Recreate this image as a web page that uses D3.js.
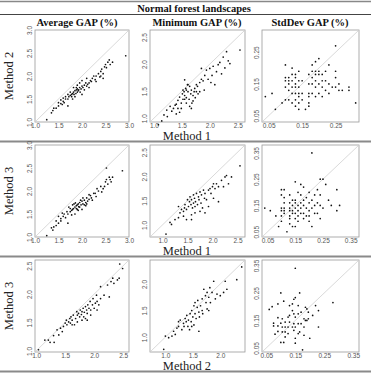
<!DOCTYPE html>
<html>
<head>
<meta charset="utf-8">
<style>
    body { margin: 0; background: #fff; }
    svg { display: block; }
    .hdr { font-family: 'Liberation Serif', 'Times New Roman', serif; font-weight: bold; font-size: 10.5px; fill: #111; }
    .lab { font-family: 'Liberation Serif', 'Times New Roman', serif; font-size: 12.5px; fill: #222; }
    .axis text { font-family: 'Liberation Sans', Arial, sans-serif; font-size: 6.5px; fill: #555; }
    .axis .domain, .axis line { display: none; }
</style>
</head>
<body>
<svg width="371" height="375"></svg>
<script src="https://d3js.org/d3.v7.min.js"></script>
<script>
// column / row headings
const title = "Normal forest landscapes";
const colTitles = ["Average GAP (%)", "Minimum GAP (%)", "StdDev GAP (%)"];
const rowLabels = ["Method 2", "Method 3", "Method 3"];
const xLabels = ["Method 1", "Method 1", "Method 2"];

// axis ranges and ticks per column and row
const gapTicksA = [1, 1.5, 2, 2.5, 3];
const gapTicksB = [1, 1.5, 2, 2.5];
const gapTicksC = [1, 1.5, 2];
const sdTicks3 = [0.05, 0.15, 0.25];
const sdTicks4 = [0.05, 0.15, 0.25, 0.35];
const domains = [
    [[1, 3], [0.93, 2.63], [0.03, 0.32]],
    [[1, 3], [0.75, 2.65], [0.03, 0.38]],
    [[0.98, 2.6], [0.72, 2.45], [0.035, 0.37]]
];
const ticks = [
    [gapTicksA, gapTicksB, sdTicks3],
    [gapTicksA, gapTicksB, sdTicks4],
    [gapTicksB, gapTicksC, sdTicks4]
];

// points: [x, y]
const avg12 = [[1.25,1.05],[1.35,1.2],[1.4,1.3],[1.38,1.25],[1.45,1.3],[1.5,1.35],[1.55,1.4],[1.6,1.45],[1.58,1.38],[1.65,1.5],
    [1.62,1.42],[1.7,1.5],[1.72,1.55],[1.75,1.58],[1.7,1.35],[1.78,1.6],[1.8,1.62],[1.82,1.65],[1.85,1.68],[1.83,1.6],
    [1.88,1.7],[1.9,1.72],[1.87,1.62],[1.92,1.68],[1.95,1.75],[1.9,1.65],[1.93,1.7],[1.96,1.65],[1.98,1.72],[2.0,1.78],
    [2.02,1.75],[1.85,1.55],[1.8,1.5],[2.05,1.8],[2.08,1.85],[2.1,1.78],[2.12,1.82],[2.15,1.85],[2.18,1.9],[2.2,1.88],
    [2.0,1.6],[2.05,1.7],[2.22,1.95],[2.25,2.0],[2.28,1.92],[2.3,2.0],[2.35,2.05],[2.38,1.98],[2.4,2.1],[2.42,2.15],
    [2.45,2.05],[2.48,2.2],[2.5,2.25],[2.52,2.18],[2.55,2.3],[2.58,2.35],[2.6,2.25],[2.65,2.3],[2.93,2.44],[1.65,1.55],
    [1.75,1.65],[1.78,1.55],[1.9,1.8],[1.95,1.85],[2.0,1.9],[2.1,1.95],[1.7,1.6],[1.6,1.52],[1.55,1.48],[1.5,1.42],
    [2.3,1.88],[2.4,2.0],[2.45,1.95],[1.82,1.75],[1.88,1.75],[2.15,1.75]];
const min12 = [[1.08,0.88],[1.18,1.06],[1.24,1.03],[1.32,1.13],[1.35,1.18],[1.38,1.24],[1.40,1.26],[1.43,1.33],[1.43,1.18],[1.46,1.39],
    [1.49,1.28],[1.51,1.45],[1.52,1.35],[1.54,1.49],[1.55,1.42],[1.57,1.55],[1.58,1.52],[1.58,1.38],[1.60,1.62],[1.61,1.49],
    [1.63,1.35],[1.64,1.59],[1.66,1.45],[1.67,1.52],[1.68,1.28],[1.70,1.42],[1.72,1.49],[1.73,1.55],[1.74,1.38],[1.76,1.49],
    [1.78,1.59],[1.79,1.45],[1.55,1.71],[1.82,1.66],[1.85,1.72],[1.88,1.69],[1.90,1.52],[1.91,1.79],[1.94,1.89],[1.97,1.72],
    [2.0,1.92],[2.02,1.66],[2.04,1.79],[2.06,1.96],[2.09,1.62],[2.12,1.86],[2.15,1.99],[2.18,2.03],[2.21,1.82],[2.24,2.13],
    [2.27,1.93],[2.30,2.23],[2.33,2.06],[2.36,2.01],[2.54,2.26],[1.23,1.15],[1.29,1.22],[1.40,1.08],[1.46,1.11],[1.49,1.18],
    [1.52,1.52],[1.64,1.22],[1.67,1.18],[1.70,1.32],[1.61,1.62],[1.76,1.62],[1.82,1.49],[1.55,1.35],[1.58,1.28],[1.14,0.95],
    [1.85,1.92]];
const sd12 = [[0.04,0.11],[0.06,0.12],[0.07,0.07],[0.09,0.09],[0.10,0.21],[0.10,0.17],[0.10,0.16],[0.10,0.14],[0.10,0.10],
    [0.11,0.17],[0.11,0.16],[0.11,0.15],[0.11,0.13],[0.11,0.10],[0.12,0.18],[0.12,0.16],[0.12,0.14],[0.12,0.12],[0.12,0.09],
    [0.12,0.20],[0.13,0.18],[0.13,0.17],[0.13,0.15],[0.13,0.14],[0.13,0.12],[0.13,0.10],[0.13,0.08],[0.14,0.19],[0.14,0.16],
    [0.14,0.14],[0.14,0.12],[0.14,0.11],[0.14,0.09],[0.14,0.07],[0.15,0.16],[0.15,0.12],[0.15,0.10],[0.16,0.07],[0.17,0.18],
    [0.17,0.15],[0.17,0.12],[0.17,0.11],[0.17,0.09],[0.17,0.08],[0.18,0.19],[0.18,0.17],[0.18,0.15],[0.18,0.12],[0.18,0.21],
    [0.19,0.18],[0.19,0.14],[0.19,0.11],[0.19,0.22],[0.19,0.19],[0.19,0.16],[0.20,0.23],[0.20,0.19],[0.20,0.18],[0.20,0.15],
    [0.20,0.12],[0.21,0.18],[0.21,0.16],[0.21,0.14],[0.21,0.11],[0.22,0.19],[0.22,0.16],[0.22,0.13],[0.23,0.21],[0.23,0.15],
    [0.23,0.12],[0.24,0.14],[0.25,0.19],[0.25,0.17],[0.25,0.14],[0.25,0.27],[0.26,0.15],[0.26,0.13],[0.27,0.13],[0.29,0.14],
    [0.29,0.13],[0.31,0.09]];
const avg13 = [[1.25,1.03],[1.35,1.2],[1.38,1.15],[1.45,1.25],[1.5,1.3],[1.55,1.4],[1.55,1.35],[1.6,1.45],[1.65,1.42],[1.7,1.5],
    [1.7,1.3],[1.75,1.55],[1.78,1.58],[1.8,1.6],[1.82,1.62],[1.85,1.65],[1.85,1.5],[1.88,1.68],[1.9,1.7],[1.9,1.6],
    [1.92,1.72],[1.95,1.75],[1.95,1.65],[1.98,1.7],[2.0,1.78],[2.0,1.6],[2.05,1.8],[2.05,1.7],[2.08,1.75],[2.1,1.85],
    [2.12,1.78],[2.15,1.82],[2.18,1.9],[2.2,1.85],[2.22,1.8],[2.25,1.95],[2.3,1.88],[2.35,2.0],[2.4,2.1],[2.45,2.05],
    [2.5,2.2],[2.52,2.25],[2.55,2.15],[2.58,2.3],[2.6,2.25],[2.65,2.3],[2.52,2.5],[2.86,2.44],[1.8,1.7],[1.83,1.72],
    [1.86,1.74],[1.88,1.62],[1.93,1.66],[1.97,1.8],[2.02,1.72],[1.75,1.62],[1.72,1.65],[1.68,1.55],[1.62,1.5],[1.58,1.52],
    [1.5,1.45],[1.45,1.35],[1.4,1.22],[2.02,1.85],[2.08,1.68],[2.15,1.92],[2.28,1.95],[2.32,2.05],[2.42,1.98],[2.48,2.1],
    [2.62,2.2],[1.92,1.58],[1.78,1.48],[2.1,1.72]];
const min13 = [[1.07,0.81],[1.15,1.05],[1.18,1.01],[1.25,1.11],[1.32,1.15],[1.32,1.38],[1.35,1.25],[1.38,1.32],[1.42,1.28],[1.44,1.35],
    [1.45,1.42],[1.48,1.32],[1.50,1.52],[1.52,1.38],[1.54,1.48],[1.55,1.58],[1.57,1.42],[1.58,1.52],[1.60,1.35],[1.62,1.62],
    [1.62,1.45],[1.64,1.55],[1.65,1.38],[1.66,1.48],[1.68,1.65],[1.70,1.42],[1.72,1.58],[1.73,1.52],[1.75,1.68],[1.77,1.45],
    [1.78,1.62],[1.80,1.35],[1.82,1.72],[1.84,1.55],[1.85,1.65],[1.88,1.52],[1.92,1.72],[1.95,1.75],[1.97,1.65],[2.0,1.79],
    [2.02,1.85],[2.05,1.75],[2.08,1.85],[2.12,1.79],[2.18,1.92],[2.22,1.79],[2.25,1.99],[2.28,2.02],[2.32,1.85],[2.38,1.99],
    [2.55,2.22],[1.42,1.18],[1.48,1.11],[1.58,1.21],[1.65,1.25],[1.75,1.28],[1.85,1.25],[1.92,1.38],[2.02,1.55],[2.12,1.48],
    [1.58,1.11]];
const sd13 = [[0.04,0.14],[0.06,0.13],[0.08,0.11],[0.09,0.07],[0.10,0.21],[0.10,0.19],[0.10,0.14],[0.10,0.13],[0.10,0.11],[0.10,0.09],
    [0.11,0.21],[0.11,0.18],[0.11,0.16],[0.11,0.14],[0.11,0.13],[0.11,0.12],[0.12,0.05],[0.13,0.19],[0.13,0.16],[0.13,0.14],
    [0.13,0.13],[0.13,0.11],[0.13,0.10],[0.13,0.08],[0.14,0.17],[0.14,0.15],[0.14,0.13],[0.14,0.12],[0.14,0.07],[0.15,0.24],
    [0.15,0.17],[0.15,0.16],[0.15,0.14],[0.15,0.12],[0.15,0.10],[0.15,0.07],[0.16,0.20],[0.16,0.15],[0.16,0.13],[0.16,0.11],
    [0.17,0.23],[0.17,0.19],[0.17,0.16],[0.17,0.14],[0.17,0.12],[0.18,0.22],[0.18,0.17],[0.18,0.15],[0.18,0.12],[0.18,0.10],
    [0.19,0.18],[0.19,0.14],[0.19,0.11],[0.20,0.20],[0.20,0.16],[0.20,0.13],[0.20,0.11],[0.21,0.35],[0.21,0.17],[0.21,0.14],
    [0.21,0.07],[0.22,0.19],[0.22,0.15],[0.22,0.12],[0.24,0.25],[0.23,0.21],[0.23,0.16],[0.23,0.12],[0.25,0.25],[0.24,0.19],
    [0.24,0.15],[0.26,0.23],[0.25,0.14],[0.27,0.17],[0.28,0.15],[0.30,0.21],[0.30,0.13],[0.31,0.15],[0.24,0.10],[0.20,0.09],
    [0.16,0.09]];
const avg23 = [[1.04,1.02],[1.15,1.19],[1.21,1.19],[1.24,1.15],[1.30,1.27],[1.31,1.15],[1.36,1.37],[1.39,1.28],[1.42,1.40],[1.45,1.34],
    [1.47,1.43],[1.50,1.49],[1.52,1.54],[1.53,1.46],[1.56,1.51],[1.58,1.57],[1.59,1.49],[1.60,1.60],[1.62,1.54],[1.64,1.63],
    [1.66,1.46],[1.68,1.57],[1.70,1.69],[1.71,1.63],[1.73,1.66],[1.75,1.60],[1.76,1.72],[1.78,1.64],[1.79,1.69],[1.81,1.75],
    [1.82,1.60],[1.83,1.68],[1.85,1.78],[1.87,1.72],[1.88,1.66],[1.89,1.81],[1.91,1.75],[1.93,1.87],[1.94,1.72],[1.97,1.81],
    [1.98,1.92],[2.0,1.75],[2.02,1.84],[2.04,1.98],[2.05,1.87],[2.08,1.81],[2.11,1.92],[2.17,1.98],[2.11,2.13],[2.23,2.16],
    [2.26,1.95],[2.29,2.22],[2.32,2.28],[2.40,2.25],[2.43,2.28],[2.49,2.45],[2.34,2.19],[1.71,1.51],[1.79,1.54],[1.85,1.57],
    [1.88,1.54],[1.94,1.63],[1.62,1.46],[2.05,1.72],[2.44,2.53]];
const min23 = [[0.97,0.77],[1.0,1.02],[1.06,0.99],[1.12,1.02],[1.15,1.11],[1.18,1.05],[1.21,1.17],[1.24,1.29],[1.24,1.20],[1.27,1.32],
    [1.30,1.14],[1.33,1.26],[1.34,1.20],[1.36,1.35],[1.38,1.29],[1.39,1.41],[1.41,1.20],[1.42,1.32],[1.44,1.14],[1.45,1.44],
    [1.47,1.29],[1.48,1.50],[1.50,1.38],[1.52,1.59],[1.52,1.23],[1.54,1.65],[1.54,1.44],[1.56,1.35],[1.58,1.56],[1.59,1.69],
    [1.61,1.47],[1.62,1.38],[1.64,1.59],[1.67,1.72],[1.67,1.50],[1.68,1.44],[1.70,1.90],[1.73,1.78],[1.74,1.65],[1.76,1.53],
    [1.79,1.75],[1.79,1.50],[1.82,1.65],[1.85,1.84],[1.88,2.05],[1.91,1.72],[1.94,1.81],[2.0,1.78],[2.06,1.84],[2.09,2.05],
    [2.12,1.90],[2.30,2.08],[2.39,2.32],[1.61,1.11],[1.48,1.20],[1.76,1.84],[1.81,1.93]];
const sd23 = [[0.06,0.19],[0.07,0.20],[0.075,0.14],[0.075,0.13],[0.08,0.10],[0.09,0.16],[0.09,0.21],[0.09,0.13],[0.09,0.11],[0.10,0.07],
    [0.10,0.25],[0.10,0.14],[0.105,0.156],[0.105,0.126],[0.105,0.108],[0.11,0.07],[0.11,0.22],[0.115,0.144],[0.115,0.126],[0.115,0.108],
    [0.115,0.09],[0.125,0.162],[0.125,0.126],[0.125,0.102],[0.13,0.204],[0.13,0.168],[0.13,0.144],[0.14,0.21],[0.14,0.186],[0.14,0.126],
    [0.145,0.227],[0.145,0.174],[0.145,0.138],[0.145,0.114],[0.15,0.34],[0.15,0.233],[0.15,0.162],[0.15,0.126],[0.15,0.085],[0.15,0.067],
    [0.16,0.204],[0.16,0.174],[0.16,0.138],[0.16,0.102],[0.165,0.25],[0.165,0.108],[0.17,0.18],[0.17,0.138],[0.175,0.043],[0.18,0.156],
    [0.18,0.126],[0.18,0.096],[0.185,0.198],[0.185,0.15],[0.19,0.192],[0.19,0.15],[0.195,0.18],[0.195,0.156],[0.20,0.085],[0.21,0.168],
    [0.22,0.204],[0.23,0.126],[0.23,0.186],[0.28,0.215]];

const panels = [
    [avg12, min12, sd12],
    [avg13, min13, sd13],
    [avg23, min23, sd23]
];

const svg = d3.select("svg");

// layout of the table
const colX = [35, 150, 262];
const colW = [94, 95, 97];
const rowY = [30, 145, 260];
const rowH = 92;
const colCenters = [77, 197, 310];

svg.append("line").attr("x1", 0).attr("x2", 371).attr("y1", 1.5).attr("y2", 1.5)
    .attr("stroke", "#888").attr("stroke-width", 1.5);
svg.append("line").attr("x1", 0).attr("x2", 371).attr("y1", 14.5).attr("y2", 14.5)
    .attr("stroke", "#444").attr("stroke-width", 1);
[141.5, 256.5, 371.5].forEach(y => {
    svg.append("line").attr("x1", 0).attr("x2", 371).attr("y1", y).attr("y2", y)
        .attr("stroke", "#8a8a8a").attr("stroke-width", 2);
});

svg.append("text").attr("class", "hdr").attr("x", 194).attr("y", 11.5)
    .attr("text-anchor", "middle").text(title);
colTitles.forEach((t, i) => {
    svg.append("text").attr("class", "hdr").attr("x", colCenters[i]).attr("y", 25.5)
        .attr("text-anchor", "middle").text(t);
});

rowLabels.forEach((t, r) => {
    svg.append("text").attr("class", "lab")
        .attr("transform", `translate(13,${rowY[r] + rowH / 2}) rotate(-90)`)
        .attr("text-anchor", "middle").text(t);
});
xLabels.forEach((t, r) => {
    svg.append("text").attr("class", "lab").attr("x", 187).attr("y", rowY[r] + rowH + 17.5)
        .attr("text-anchor", "middle").text(t);
});

panels.forEach((row, r) => {
    row.forEach((pts, c) => {
        const dom = domains[r][c];
        const x = d3.scaleLinear().domain(dom).range([colX[c], colX[c] + colW[c]]);
        const y = d3.scaleLinear().domain(dom).range([rowY[r] + rowH, rowY[r]]);
        const fmt = c === 2 ? d3.format(".2f") : d3.format(".1f");
        const g = svg.append("g");

        g.append("rect")
            .attr("x", colX[c]).attr("y", rowY[r])
            .attr("width", colW[c]).attr("height", rowH)
            .attr("fill", "none").attr("stroke", "#9a9a9a").attr("stroke-width", 0.8);

        g.append("line")
            .attr("x1", x(dom[0])).attr("y1", y(dom[0]))
            .attr("x2", x(dom[1])).attr("y2", y(dom[1]))
            .attr("stroke", "#cfcfcf").attr("stroke-width", 0.8);

        g.append("g").attr("class", "axis")
            .attr("transform", `translate(0,${rowY[r] + rowH})`)
            .call(d3.axisBottom(x).tickValues(ticks[r][c]).tickFormat(fmt).tickSize(0).tickPadding(1.5));

        g.append("g").attr("class", "axis")
            .attr("transform", `translate(${colX[c]},0)`)
            .call(d3.axisLeft(y).tickValues(ticks[r][c]).tickFormat(fmt).tickSize(0))
            .selectAll("text")
            .attr("transform", "rotate(-90)")
            .attr("x", 0).attr("y", -3).attr("dy", 0)
            .attr("text-anchor", "middle");

        g.selectAll(".pt").data(pts).join("circle")
            .attr("class", "pt")
            .attr("cx", d => x(d[0]))
            .attr("cy", d => y(d[1]))
            .attr("r", 0.85)
            .attr("fill", "#111");
    });
});
</script>
</body>
</html>
